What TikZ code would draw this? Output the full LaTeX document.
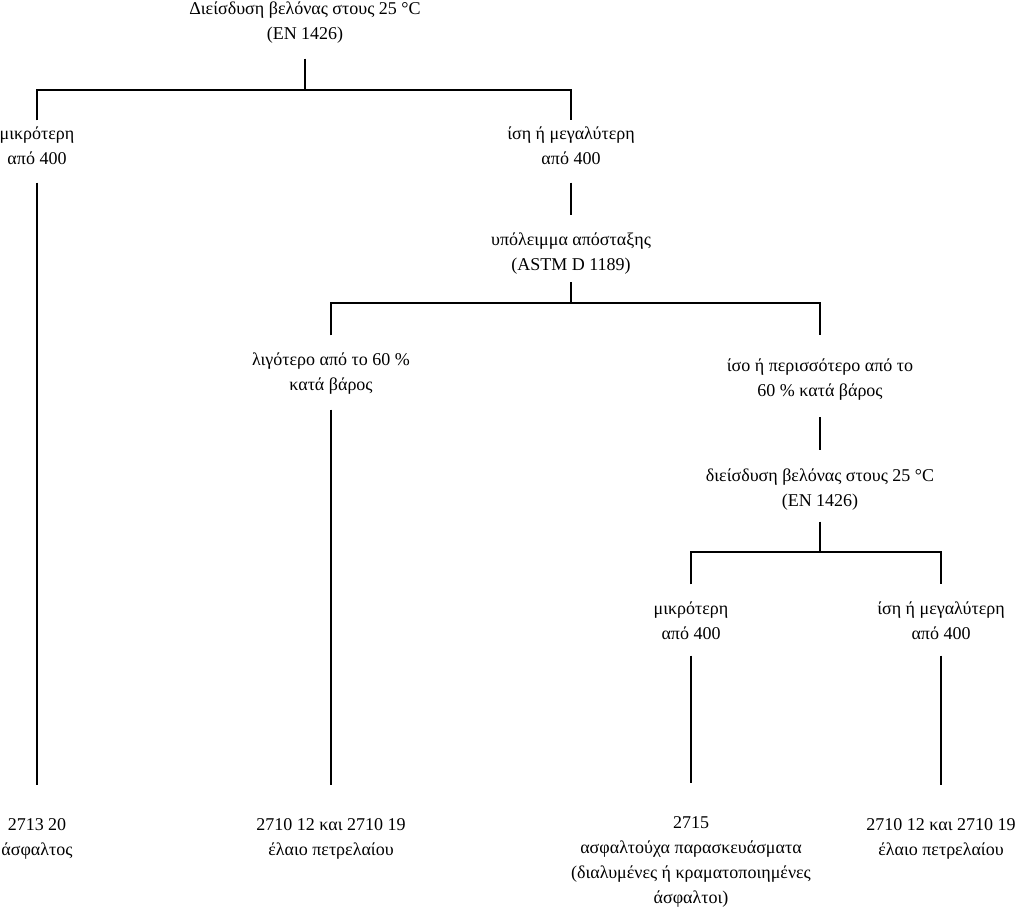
\documentclass[tikz,border=0pt]{standalone}
\usepackage{fontspec}
\setmainfont{Liberation Serif}
\begin{document}
\begin{tikzpicture}[x=1pt,y=-1pt,
  lbl/.style={align=center, inner sep=0pt, font=\fontsize{18}{25}\selectfont},
  conn/.style={line width=2.8pt, line join=miter}]
\useasboundingbox (0,0) rectangle (1024,906);
\fill[white] (0,0) rectangle (1024,906);
\coordinate (j1) at (305,90);
\coordinate (j2) at (571,303);
\coordinate (j3) at (820,552);
\node[lbl] (t) at (305,22) {Διείσδυση βελόνας στους 25 °C\strut\\(EN 1426)\strut};
\node[lbl] (a1) at (37,147) {μικρότερη\strut\\από 400\strut};
\node[lbl] (a2) at (571,147) {ίση ή μεγαλύτερη\strut\\από 400\strut};
\node[lbl] (b) at (571,252.5) {υπόλειμμα απόσταξης\strut\\(ASTM D 1189)\strut};
\node[lbl] (c1) at (331,373) {λιγότερο από το 60 \%\strut\\κατά βάρος\strut};
\node[lbl] (c2) at (820,378.5) {ίσο ή περισσότερο από το\strut\\60 \% κατά βάρος\strut};
\node[lbl] (d) at (820,489) {διείσδυση βελόνας στους 25 °C\strut\\(EN 1426)\strut};
\node[lbl] (e1) at (691,622) {μικρότερη\strut\\από 400\strut};
\node[lbl] (e2) at (941,622) {ίση ή μεγαλύτερη\strut\\από 400\strut};
\node[lbl] (f1) at (37,837.5) {2713 20\strut\\άσφαλτος\strut};
\node[lbl] (f2) at (331,837.5) {2710 12 και 2710 19\strut\\έλαιο πετρελαίου\strut};
\node[lbl] (f3) at (691,860.5) {2715\strut\\ασφαλτούχα παρασκευάσματα\strut\\(διαλυμένες ή κραματοποιημένες\strut\\άσφαλτοι)\strut};
\node[lbl] (f4) at (941,837.5) {2710 12 και 2710 19\strut\\έλαιο πετρελαίου\strut};
\draw[conn, shorten <=11.5pt] (t.south) -- (t.south |- j1);
\draw[conn, shorten <=1.5pt, shorten >=1.5pt] (a1.north) -- (a1.north |- j1) -- (a2.north |- j1) -- (a2.north);
\draw[conn, shorten <=10.5pt, shorten >=27.5pt] (a1.south) -- (f1.north);
\draw[conn, shorten <=10.5pt, shorten >=12.5pt] (a2.south) -- (b.north);
\draw[conn, shorten <=4.5pt] (b.south) -- (b.south |- j2);
\draw[conn, shorten <=12.5pt, shorten >=18.5pt] (c1.north) -- (c1.north |- j2) -- (c2.north |- j2) -- (c2.north);
\draw[conn, shorten <=11.5pt, shorten >=27.5pt] (c1.south) -- (f2.north);
\draw[conn, shorten <=13.5pt, shorten >=13.5pt] (c2.south) -- (d.north);
\draw[conn, shorten <=7.5pt] (d.south) -- (d.south |- j3);
\draw[conn, shorten <=12.5pt, shorten >=12.5pt] (e1.north) -- (e1.north |- j3) -- (e2.north |- j3) -- (e2.north);
\draw[conn, shorten <=8.5pt, shorten >=27.5pt] (e1.south) -- (f3.north);
\draw[conn, shorten <=8.5pt, shorten >=27.5pt] (e2.south) -- (f4.north);
\end{tikzpicture}
\end{document}
